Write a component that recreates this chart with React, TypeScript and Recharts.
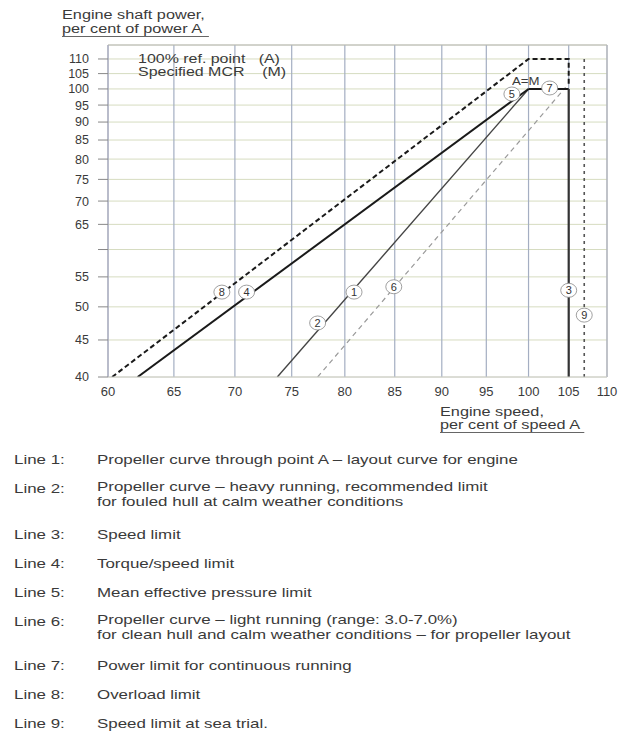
import React from 'react';
import {
  LineChart, Line, XAxis, YAxis, CartesianGrid, ReferenceLine, ReferenceDot,
} from 'recharts';

// ---- data (engine speed % of A, engine power % of A) ----
const xTicks = [60, 65, 70, 75, 80, 85, 90, 95, 100, 105, 110];
const yTicks = [40, 45, 50, 55, 60, 65, 70, 75, 80, 85, 90, 95, 100, 105, 110];
const yHiddenLabels = [60];

const line1 = [{ x: 73.7, y: 40 }, { x: 100, y: 100 }];
const line4 = [{ x: 62.2, y: 40 }, { x: 100, y: 100 }];
const line6 = [{ x: 77.4, y: 40 }, { x: 104.6, y: 100.5 }];
const line8 = [{ x: 60.3, y: 40 }, { x: 100, y: 110 }, { x: 105, y: 110 }, { x: 105, y: 101 }];
const line7 = [{ x: 100, y: 100 }, { x: 105, y: 100 }];
const line3 = [{ x: 105, y: 100 }, { x: 105, y: 40 }];
const line9 = [{ x: 107, y: 40 }, { x: 107, y: 111 }];

const circleLabels = [
  { n: '1', x: 80.9, y: 52.4 },
  { n: '2', x: 77.4, y: 47.5 },
  { n: '6', x: 84.9, y: 53.3 },
  { n: '8', x: 68.9, y: 52.4 },
  { n: '4', x: 71.0, y: 52.4 },
  { n: '3', x: 105, y: 52.7 },
  { n: '9', x: 107, y: 48.7 },
  { n: '5', x: 98.0, y: 98.4 },
  { n: '7', x: 102.6, y: 100.3 },
];

const legendRows = [
  { label: 'Line 1:', text: ['Propeller curve through point A \u2013 layout curve for engine'] },
  { label: 'Line 2:', text: ['Propeller curve \u2013 heavy running, recommended limit', 'for fouled hull at calm weather conditions'] },
  { label: 'Line 3:', text: ['Speed limit'] },
  { label: 'Line 4:', text: ['Torque/speed limit'] },
  { label: 'Line 5:', text: ['Mean effective pressure limit'] },
  { label: 'Line 6:', text: ['Propeller curve \u2013 light running (range: 3.0-7.0%)', 'for clean hull and calm weather conditions \u2013 for propeller layout'] },
  { label: 'Line 7:', text: ['Power limit for continuous running'] },
  { label: 'Line 8:', text: ['Overload limit'] },
  { label: 'Line 9:', text: ['Speed limit at sea trial.'] },
];
const legendTops = [450, 479, 525, 554, 583, 612, 656, 685, 714];

const FONT = '"Liberation Sans", Arial, sans-serif';
const TXT = '#3a3a3a';

const stretch = (s: number): React.CSSProperties => ({
  display: 'inline-block',
  transform: `scaleX(${s})`,
  transformOrigin: 'left top',
  whiteSpace: 'pre',
});

const CircleLabel = (props: any) => {
  const { cx, cy, n } = props;
  if (cx == null || cy == null) return null;
  return (
    <g>
      <ellipse cx={cx} cy={cy} rx={8} ry={7} fill="#fff" stroke="#888" strokeWidth={0.8} />
      <text x={cx} y={cy + 4} textAnchor="middle" fontSize={11} fontFamily={FONT} fill="#333">{n}</text>
    </g>
  );
};

export default function App() {
  return (
    <div style={{ position: 'absolute', left: 0, top: 0, width: 619, height: 740, background: '#fff', fontFamily: FONT, color: TXT }}>
      <div style={{ position: 'absolute', left: 62, top: 8 }}>
        <div style={{ ...stretch(1.3), fontSize: 12.5, lineHeight: '14px', borderBottom: '1px solid #666', paddingRight: 3 }}>
          <div>Engine shaft power,</div>
          <div>per cent of power A</div>
        </div>
      </div>
      <div style={{ position: 'absolute', left: 0, top: 0 }}>
        <LineChart width={619} height={440} margin={{ top: 45, right: 12, bottom: 33, left: 0 }}>
          <CartesianGrid vertical={false} stroke="#d6dcc0" strokeWidth={1} />
          <CartesianGrid horizontal={false} stroke="#a4aec2" strokeWidth={1.2} />
          <XAxis
            type="number"
            dataKey="x"
            scale="log"
            domain={[60, 110]}
            ticks={xTicks}
            interval={0}
            allowDataOverflow
            axisLine={{ stroke: '#ccc' }}
            tickLine={false}
            tickMargin={4}
            height={30}
            tick={{ fontSize: 13, fill: TXT, fontFamily: FONT }}
          />
          <YAxis
            type="number"
            dataKey="y"
            scale="log"
            domain={[40, 115]}
            ticks={yTicks}
            interval={0}
            allowDataOverflow
            width={108}
            axisLine={{ stroke: '#aab' }}
            tickLine={{ stroke: '#888' }}
            tickSize={10}
            tickMargin={9}
            tickFormatter={(v: number) => (yHiddenLabels.includes(v) ? '' : String(v))}
            tick={{ fontSize: 12.5, fill: TXT, fontFamily: FONT }}
          />
          <ReferenceLine y={115} stroke="#b8b8b8" />
          <ReferenceLine x={110} stroke="#b8b8b8" />
          <Line data={line6} dataKey="y" stroke="#9a9a9a" strokeWidth={1.2} strokeDasharray="5 4" dot={false} isAnimationActive={false} />
          <Line data={line1} dataKey="y" stroke="#444" strokeWidth={1.4} dot={false} isAnimationActive={false} />
          <Line data={line4} dataKey="y" stroke="#1a1a1a" strokeWidth={2} dot={false} isAnimationActive={false} />
          <Line data={line8} dataKey="y" stroke="#1a1a1a" strokeWidth={2} strokeDasharray="5 3" dot={false} isAnimationActive={false} />
          <Line data={line7} dataKey="y" stroke="#1a1a1a" strokeWidth={2} dot={false} isAnimationActive={false} />
          <Line data={line3} dataKey="y" stroke="#333" strokeWidth={2.2} dot={false} isAnimationActive={false} />
          <Line data={line9} dataKey="y" stroke="#555" strokeWidth={1.6} strokeDasharray="3 4" dot={false} isAnimationActive={false} />
          {circleLabels.map((c) => (
            <ReferenceDot key={c.n} x={c.x} y={c.y} r={7} shape={(p: any) => <CircleLabel {...p} n={c.n} />} />
          ))}
        </LineChart>
      </div>
      <div style={{ position: 'absolute', left: 138, top: 53 }}>
        <div style={{ ...stretch(1.33), fontSize: 12, lineHeight: '13px' }}>
          <div>{'100% ref. point   (A)'}</div>
          <div>{'Specified MCR    (M)'}</div>
        </div>
      </div>
      <div style={{ position: 'absolute', left: 512, top: 71 }}>
        <div style={{ ...stretch(1.2), fontSize: 11 }}>A=M</div>
      </div>
      <div style={{ position: 'absolute', left: 440, top: 406 }}>
        <div style={{ ...stretch(1.3), fontSize: 12.5, lineHeight: '13px', borderBottom: '1px solid #666', paddingRight: 3 }}>
          <div>Engine speed,</div>
          <div>per cent of speed A</div>
        </div>
      </div>
      {legendRows.map((r, i) => (
        <div key={r.label} style={{ position: 'absolute', left: 0, top: legendTops[i], width: 619 }}>
          <div style={{ position: 'absolute', left: 14, top: 0 }}>
            <div style={{ ...stretch(1.3), fontSize: 13, lineHeight: '15px' }}>{r.label}</div>
          </div>
          <div style={{ position: 'absolute', left: 97, top: 0 }}>
            <div style={{ ...stretch(1.3), fontSize: 13, lineHeight: '15px' }}>
              {r.text.map((t) => <div key={t}>{t}</div>)}
            </div>
          </div>
        </div>
      ))}
    </div>
  );
}
